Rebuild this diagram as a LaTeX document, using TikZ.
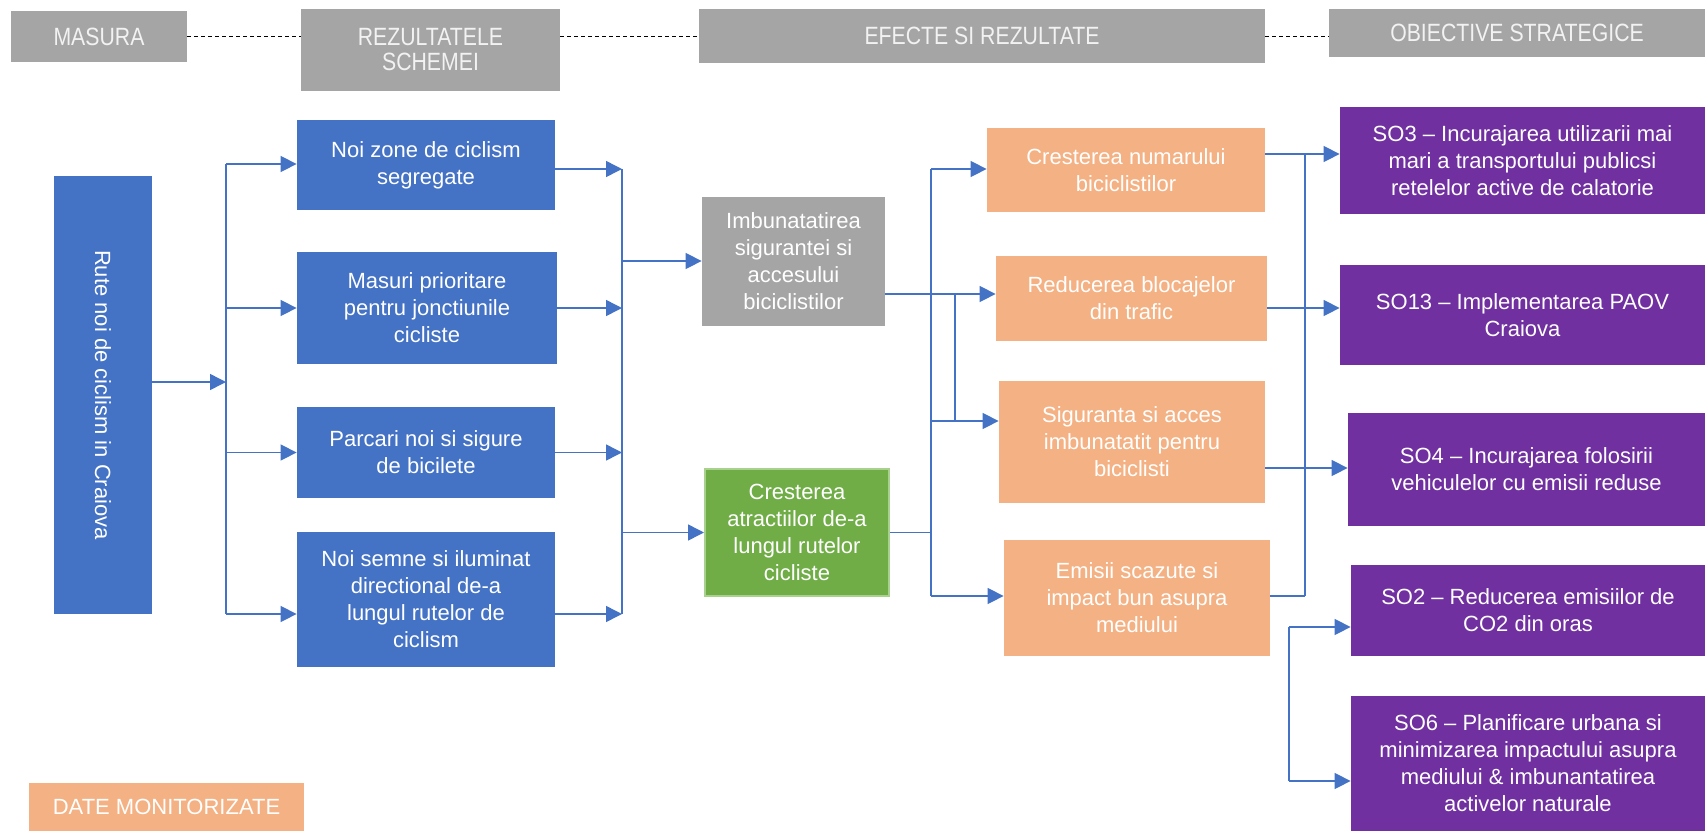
\documentclass[tikz,border=0pt]{standalone}
\usepackage{fontspec}
\setmainfont{Liberation Sans}
\newfontfamily\narrowfont[FakeStretch=0.85]{Liberation Sans}
\usepackage{tikz}
\usetikzlibrary{arrows.meta}
\definecolor{hdrgray}{HTML}{A5A5A5}
\definecolor{hdrtext}{HTML}{F2F2F2}
\definecolor{ppblue}{HTML}{4472C4}
\definecolor{ppgreen}{HTML}{70AD47}
\definecolor{ppgreenedge}{HTML}{A9D18E}
\definecolor{pporange}{HTML}{F4B183}
\definecolor{pppurple}{HTML}{7030A0}
\tikzstyle{box}=[rectangle, inner sep=0pt, align=center, text=white, font=\fontsize{11}{13.5}\selectfont]
\tikzstyle{hdr}=[box, fill=hdrgray, text=hdrtext, font=\narrowfont\fontsize{12.5}{12.5}\selectfont]
\tikzstyle{result}=[box, fill=ppblue]
\tikzstyle{effect}=[box, fill=pporange]
\tikzstyle{objective}=[box, fill=pppurple]
\tikzstyle{link}=[draw=ppblue, line width=0.75pt]
\tikzstyle{flow}=[link, -{Triangle[length=8pt,width=8pt]}]
\tikzstyle{guide}=[draw=black, line width=0.5pt, dash pattern=on 2pt off 1.5pt]
\tikzset{wh/.style 2 args={minimum width=#1*0.5pt, minimum height=#2*0.5pt}}

\begin{document}
\begin{tikzpicture}[x=0.5pt, y=-0.5pt]
    \useasboundingbox (0,0) rectangle (1705,831);
    % header
    \node[hdr, wh={176}{51}] (hMasura) at (99,36.5) {MASURA};
    \node[hdr, wh={259}{82}] (hRezultate) at (430.5,50) {REZULTATELE\\SCHEMEI};
    \node[hdr, wh={566}{54}] (hEfecte) at (982,36) {EFECTE SI REZULTATE};
    \node[hdr, wh={376}{48}] (hObiective) at (1517,33) {OBIECTIVE STRATEGICE};
    \draw[guide] (hMasura.east) -- (hMasura.east -| hRezultate.west);
    \draw[guide] (hEfecte.west -| hRezultate.east) -- (hEfecte.west);
    \draw[guide] (hEfecte.east) -- (hEfecte.east -| hObiective.west);

    \node[result, wh={98}{438}] (rute) at (103,395) {\rotatebox{-90}{Rute noi de ciclism in Craiova}};

    \node[result, wh={258}{90}] (zone) at (426,165) {Noi zone de ciclism\\segregate};
    \node[result, wh={260}{112}] (prior) at (427,308) {Masuri prioritare\\pentru jonctiunile\\cicliste};
    \node[result, wh={258}{91}] (parcari) at (426,452.5) {Parcari noi si sigure\\de bicilete};
    \node[result, wh={258}{135}] (semne) at (426,599.5) {Noi semne si iluminat\\directional de-a\\lungul rutelor de\\ciclism};

    \node[box, fill=hdrgray, wh={183}{129}] (siguranta) at (793.5,261) {Imbunatatirea\\sigurantei si\\accesului\\biciclistilor};
    \node[box, fill=ppgreen, draw=ppgreenedge, line width=1pt, wh={184}{127}] (atractii) at (797,532.5) {Cresterea\\atractiilor de-a\\lungul rutelor\\cicliste};

    \node[effect, wh={278}{84}] (numar) at (1126,170) {Cresterea numarului\\biciclistilor};
    \node[effect, wh={271}{85}] (blocaje) at (1131.5,298.5) {Reducerea blocajelor\\din trafic};
    \node[effect, wh={266}{122}] (acces) at (1132,442) {Siguranta si acces\\imbunatatit pentru\\biciclisti};
    \node[effect, wh={266}{116}] (emisii) at (1137,598) {Emisii scazute si\\impact bun asupra\\mediului};

    \node[objective, wh={365}{107}] (so3) at (1522.5,160.5) {SO3 – Incurajarea utilizarii mai\\mari a transportului publicsi\\retelelor active de calatorie};
    \node[objective, wh={365}{100}] (so13) at (1522.5,315) {SO13 – Implementarea PAOV\\Craiova};
    \node[objective, wh={357}{113}] (so4) at (1526.5,469.5) {SO4 – Incurajarea folosirii\\vehiculelor cu emisii reduse};
    \node[objective, wh={354}{91}] (so2) at (1528,610.5) {SO2 – Reducerea emisiilor de\\CO2 din oras};
    \node[objective, wh={354}{135}] (so6) at (1528,763.5) {SO6 – Planificare urbana si\\minimizarea impactului asupra\\mediului \& imbunantatirea\\activelor naturale};

    \node[effect, wh={275}{48}] (date) at (166.5,807) {DATE MONITORIZATE};

    % masura -> rezultatele schemei
    \coordinate (forkIn) at (226,382);
    \coordinate (forkTop) at (226,164);
    \coordinate (forkBot) at (226,614);
    \draw[flow] (rute.east |- forkIn) -- (forkIn);
    \draw[link] (forkTop) -- (forkBot);
    \draw[flow] (forkTop) -- (forkTop -| zone.west);
    \draw[flow] (forkIn |- prior.west) -- (prior.west);
    \draw[flow] (forkIn |- parcari.west) -- (parcari.west);
    \draw[flow] (forkBot) -- (forkBot -| semne.west);

    \coordinate (joinTop) at (622,169);
    \coordinate (joinBot) at (622,614);
    \draw[flow] (zone.east |- joinTop) -- (joinTop);
    \draw[flow] (prior.east) -- (prior.east -| joinTop);
    \draw[flow] (parcari.east) -- (parcari.east -| joinTop);
    \draw[flow] (semne.east |- joinBot) -- (joinBot);
    \draw[link] (joinTop) -- (joinBot);
    \draw[flow] (joinTop |- siguranta.west) -- (siguranta.west);
    \draw[flow] (joinTop |- atractii.west) -- (atractii.west);

    % efecte
    \coordinate (sigOut) at (885,294);
    \coordinate (busTop) at (931,169);
    \coordinate (busMid) at (931,421);
    \coordinate (busBot) at (931,596);
    \coordinate (bridge) at (955,294);
    \draw[link] (busTop) -- (busBot);
    \draw[flow] (busTop) -- (busTop -| numar.west);
    \draw[flow] (sigOut) -- (sigOut -| blocaje.west);
    \draw[flow] (busMid) -- (busMid -| acces.west);
    \draw[flow] (busBot) -- (busBot -| emisii.west);
    \draw[link] (atractii.east) -- (atractii.east -| busTop);
    \draw[link] (bridge) -- (bridge |- busMid);

    % obiective
    \coordinate (rbusTop) at (1305,154);
    \coordinate (rbusMid) at (1305,308);
    \coordinate (rbusLow) at (1305,468);
    \coordinate (rbusBot) at (1305,596);
    \draw[link] (rbusTop) -- (rbusBot);
    \draw[flow] (numar.east |- rbusTop) -- (rbusTop -| so3.west);
    \draw[flow] (blocaje.east |- rbusMid) -- (rbusMid -| so13.west);
    \draw[flow] (acces.east |- rbusLow) -- (rbusLow -| so4.west);
    \draw[link] (emisii.east |- rbusBot) -- (rbusBot);

    \coordinate (lbusTop) at (1289,627);
    \coordinate (lbusBot) at (1289,781);
    \draw[link] (lbusTop) -- (lbusBot);
    \draw[flow] (lbusTop) -- (lbusTop -| so2.west);
    \draw[flow] (lbusBot) -- (lbusBot -| so6.west);
\end{tikzpicture}
\end{document}
